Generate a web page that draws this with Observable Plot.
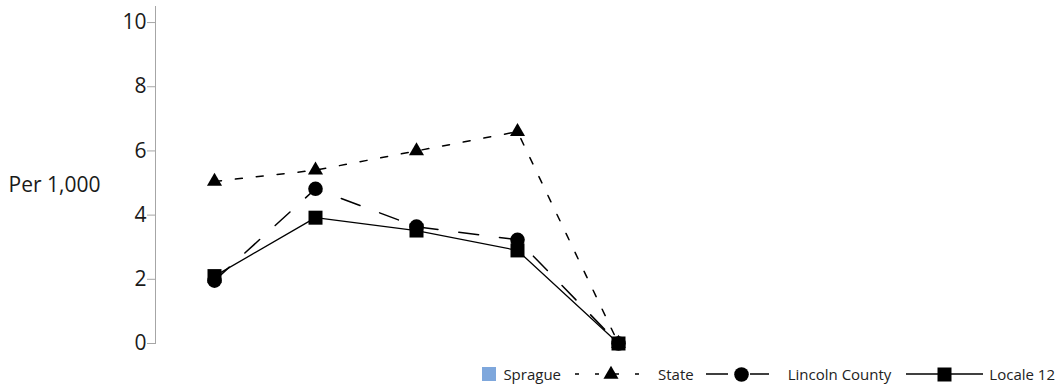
<!DOCTYPE html>
<html><head><meta charset="utf-8">
<script src="https://cdn.jsdelivr.net/npm/d3@7"></script>
<script src="https://cdn.jsdelivr.net/npm/@observablehq/plot@0.6"></script>
<style>
body{margin:0;background:#fff;font-family:"Open Sans",sans-serif;}
#wrap{position:relative;width:1056px;height:388px;overflow:hidden;}
#legend{position:absolute;right:1px;top:362px;height:24px;display:flex;align-items:center;font-size:15px;color:#222;white-space:nowrap;}
#legend .item{display:flex;align-items:center;}
#legend svg{display:block;}
</style></head><body><div id="wrap"><div id="chart"></div><div id="legend"></div></div>
<script>
const periods = ["P1", "P2", "P3", "P4", "P5"];
const seriesNames = ["Sprague", "State", "Lincoln County", "Locale 12"];
const spragueValues = [];
const stateValues = [5.05, 5.4, 6.0, 6.6, 0];
const lincolnValues = [1.96, 4.82, 3.64, 3.23, 0];
const locale12Values = [2.1, 3.92, 3.52, 2.9, 0];
const yTicks = [0, 2, 4, 6, 8, 10];
const yLabel = "Per 1,000";

const styles = {
  "Sprague": {kind: "swatch", color: "#7ea7dc"},
  "State": {symbol: "triangle", r: 5.6, dash: "7,14", width: 1.5},
  "Lincoln County": {symbol: "circle", r: 7.3, dash: "20,21", width: 1.5},
  "Locale 12": {symbol: "square", r: 7.9, dash: null, width: 1.3}
};

const seriesValues = [spragueValues, stateValues, lincolnValues, locale12Values];
const rows = [];
seriesNames.forEach((s, i) => seriesValues[i].forEach((v, j) => rows.push({series: s, period: periods[j], value: v})));

const marks = [Plot.frame({anchor: "left", stroke: "#a6a6a6"}),
  Plot.axisY({ticks: yTicks, tickSize: 8, tickPadding: 1, stroke: "#a6a6a6", fill: "#1a1a1a", fontSize: 21, label: null}),
  Plot.text([yLabel], {frameAnchor: "left", dx: -55, dy: 10.5, textAnchor: "end", fontSize: 21, fill: "#1a1a1a"})
];
for (const s of ["State", "Lincoln County", "Locale 12"]) {
  const st = styles[s];
  const d = rows.filter(r => r.series === s);
  marks.push(Plot.line(d, {x: "period", y: "value", stroke: "black", strokeWidth: st.width, strokeDasharray: st.dash || undefined}));
}
for (const s of ["State", "Lincoln County", "Locale 12"]) {
  const st = styles[s];
  const d = rows.filter(r => r.series === s);
  marks.push(Plot.dot(d, {x: "period", y: "value", symbol: () => st.symbol, r: st.r, fill: "black", stroke: "none"}));
}

const chart = Plot.plot({
  width: 1056, height: 355,
  marginLeft: 155, marginRight: 20, marginTop: 6, marginBottom: 12,
  style: {fontFamily: "'Open Sans', sans-serif", background: "white"},
  x: {type: "point", domain: periods, range: [212.7, 619], padding: 0, axis: null},
  y: {domain: [0, 10.5], axis: null},
  symbol: {type: "identity"},
  marks
});
document.getElementById("chart").append(chart);

// legend
const legend = d3.select("#legend");
const sym = (g, name, cx, cy, r) => {
  const size = Math.PI * r * r;
  const t = {triangle: d3.symbolTriangle, circle: d3.symbolCircle, square: d3.symbolSquare}[name];
  g.append("path").attr("transform", `translate(${cx},${cy})`).attr("d", d3.symbol(t, size)()).attr("fill", "black");
};
const legendLayout = {
  "Sprague": {w: 14, gapAfter: 7},
  "State": {w: 72, pre: 14, gapAfter: 11},
  "Lincoln County": {w: 63, pre: 12, gapAfter: 19},
  "Locale 12": {w: 77, pre: 15, gapAfter: 6}
};
seriesNames.forEach(s => {
  const st = styles[s], L = legendLayout[s];
  const item = legend.append("div").attr("class", "item").style("margin-left", (L.pre || 0) + "px");
  const svg = item.append("svg").attr("width", L.w).attr("height", 18).style("margin-right", L.gapAfter + "px");
  if (st.kind === "swatch") {
    svg.append("rect").attr("x", 0).attr("y", 2).attr("width", 14).attr("height", 14).attr("fill", st.color);
  } else {
    svg.append("line").attr("x1", 0).attr("x2", L.w).attr("y1", 9).attr("y2", 9)
      .attr("stroke", "black").attr("stroke-width", st.width)
      .attr("stroke-dasharray", s === "State" ? "4,16" : s === "Lincoln County" ? "22,22" : null);
    sym(svg, st.symbol, L.w / 2 + (s === "Lincoln County" ? 4 : 0), 9.5, st.r);
  }
  item.append("span").text(s);
});
</script>
</body></html>
